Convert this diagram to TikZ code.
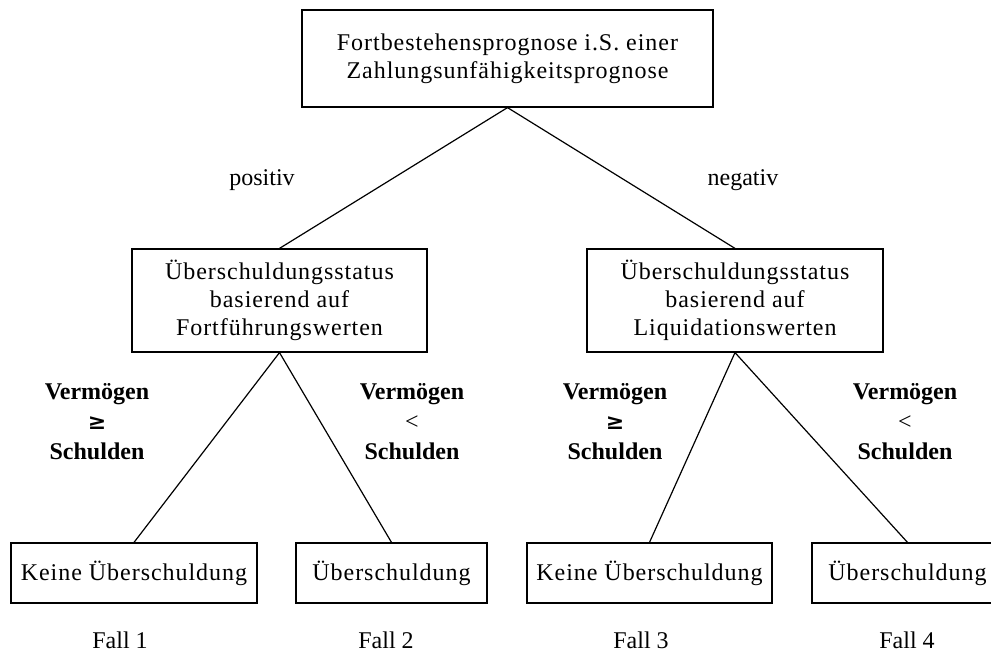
\documentclass[tikz,border=0pt]{standalone}
\usepackage{fontspec}
\setmainfont{Liberation Serif}
\newfontfamily\boxfont[LetterSpace=4]{Liberation Serif}
\newfontfamily\symfont{DejaVu Serif}
\newcommand{\geqsym}{{\symfont\bfseries\fontsize{22}{30}\selectfont ≥}}
\begin{document}
\begin{tikzpicture}[x=1pt,y=-1pt,line width=1.2pt,
  box/.style={draw,inner sep=0pt,align=center,font={\boxfont\fontsize{24}{28}\selectfont}},
  branch/.style={font={\fontsize{24}{28}\selectfont}},
  cond/.style={align=center,inner sep=0pt,font={\bfseries\fontsize{24}{30}\selectfont}},
  conn/.style={draw,line width=1.2pt}]
\useasboundingbox (0,0) rectangle (991,652);
\node[box,minimum width=411,minimum height=97] (top) at (507.5,58.5)
  {Fortbestehensprognose i.S. einer\\Zahlungsunfähigkeitsprognose};
\node[box,minimum width=295,minimum height=103] (midL) at (279.5,300.5)
  {Überschuldungsstatus\\basierend auf\\Fortführungswerten};
\node[box,minimum width=296,minimum height=103] (midR) at (735,300.5)
  {Überschuldungsstatus\\basierend auf\\Liquidationswerten};
\node[box,minimum width=246,minimum height=60] (b1) at (134,573) {Keine Überschuldung};
\node[box,minimum width=191,minimum height=60] (b2) at (391.5,573) {Überschuldung};
\node[box,minimum width=245,minimum height=60] (b3) at (649.5,573) {Keine Überschuldung};
\node[box,minimum width=191,minimum height=60] (b4) at (907.5,573) {Überschuldung};
\draw[conn] (top.south) -- (midL.north);
\draw[conn] (top.south) -- (midR.north);
\draw[conn] (midL.south) -- (b1.north);
\draw[conn] (midL.south) -- (b2.north);
\draw[conn] (midR.south) -- (b3.north);
\draw[conn] (midR.south) -- (b4.north);
\node[branch] (pos) at (262,180) {positiv};
\node[branch] (neg) at (743,180) {negativ};
\node[cond] (c1) at (97,422) {Vermögen\\\geqsym\\Schulden};
\node[cond] (c2) at (412,422) {Vermögen\\{\mdseries <}\\Schulden};
\node[cond] (c3) at (615,422) {Vermögen\\\geqsym\\Schulden};
\node[cond] (c4) at (905,422) {Vermögen\\{\mdseries <}\\Schulden};
\node[branch] (f1) at (120,640) {Fall 1};
\node[branch] (f2) at (386,640) {Fall 2};
\node[branch] (f3) at (641,640) {Fall 3};
\node[branch] (f4) at (907,640) {Fall 4};
\end{tikzpicture}
\end{document}
